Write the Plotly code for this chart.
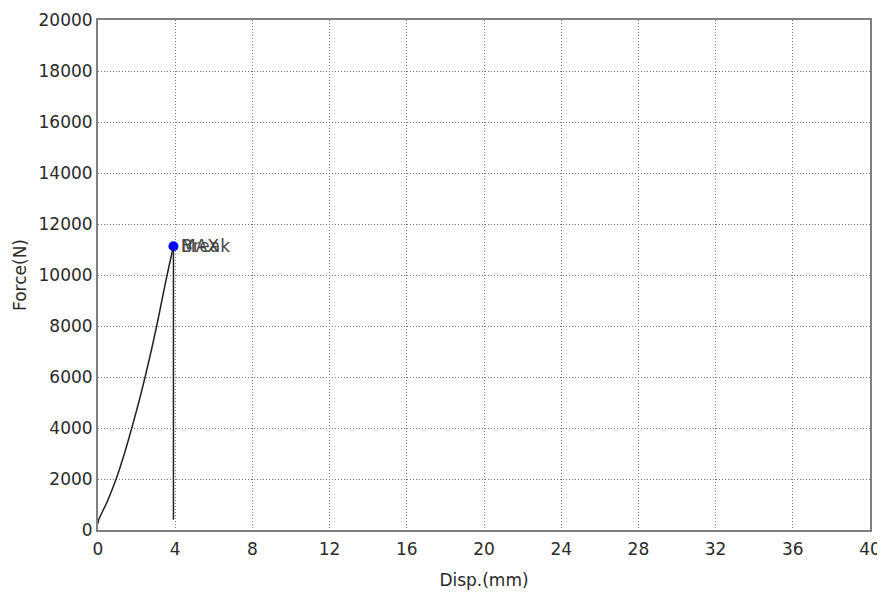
import plotly.graph_objects as go

disp_mm = [0.0, 0.03, 0.47, 0.94, 1.37, 1.75, 2.11, 2.44, 2.75, 3.04, 3.31, 3.58, 3.91]
force_n = [250, 390, 1100, 2000, 3000, 4000, 5000, 6000, 7000, 8000, 9000, 10000, 11130]

break_disp = [3.91, 3.91]
break_force = [11130, 400]

peak_disp = [3.91]
peak_force = [11130]
peak_labels = ["MAX", "Break"]

x_ticks = list(range(0, 41, 4))
y_ticks = list(range(0, 20001, 2000))
y_tick_text = [str(v) for v in y_ticks]
x_tick_text = [str(v) for v in x_ticks]

FONT = "DejaVu Sans"
TXT = "#2a2a2a"

fig = go.Figure()
fig.add_trace(go.Scatter(
    x=disp_mm, y=force_n, mode="lines",
    line=dict(color="#222222", width=1.5, shape="spline", smoothing=0.6),
    hoverinfo="skip", showlegend=False,
))
fig.add_trace(go.Scatter(
    x=break_disp, y=break_force, mode="lines",
    line=dict(color="#222222", width=1.5),
    hoverinfo="skip", showlegend=False,
))
fig.add_trace(go.Scatter(
    x=peak_disp, y=peak_force, mode="markers",
    marker=dict(color="#0000ff", size=10),
    showlegend=False,
))
for lab in peak_labels:
    fig.add_annotation(
        x=peak_disp[0], y=peak_force[0], text=lab, showarrow=False,
        xanchor="left", yanchor="middle", xshift=6,
        font=dict(family=FONT, size=17, color="#444444"),
    )

axis_common = dict(
    showline=True, linecolor="#808080", linewidth=2, mirror=True,
    showgrid=True, gridcolor="#7a7a7a", gridwidth=1, griddash="1px,2px",
    zeroline=False, ticks="", automargin=False,
    tickfont=dict(family=FONT, size=17, color=TXT),
)

fig.update_xaxes(
    range=[0, 40], tickmode="array", tickvals=x_ticks, ticktext=x_tick_text,
    ticklabelstandoff=3,
    title=dict(text="Disp.(mm)", font=dict(family=FONT, size=17, color=TXT), standoff=16),
    **axis_common,
)
fig.update_yaxes(
    range=[0, 20000], tickmode="array", tickvals=y_ticks, ticktext=y_tick_text,
    title=dict(text="Force(N)", font=dict(family=FONT, size=17, color=TXT), standoff=8),
    **axis_common,
)

fig.update_layout(
    width=877, height=598,
    margin=dict(l=90, r=15, t=12, b=76),
    plot_bgcolor="white", paper_bgcolor="white",
    font=dict(family=FONT, size=17, color=TXT),
)

fig.write_html("out.html")
